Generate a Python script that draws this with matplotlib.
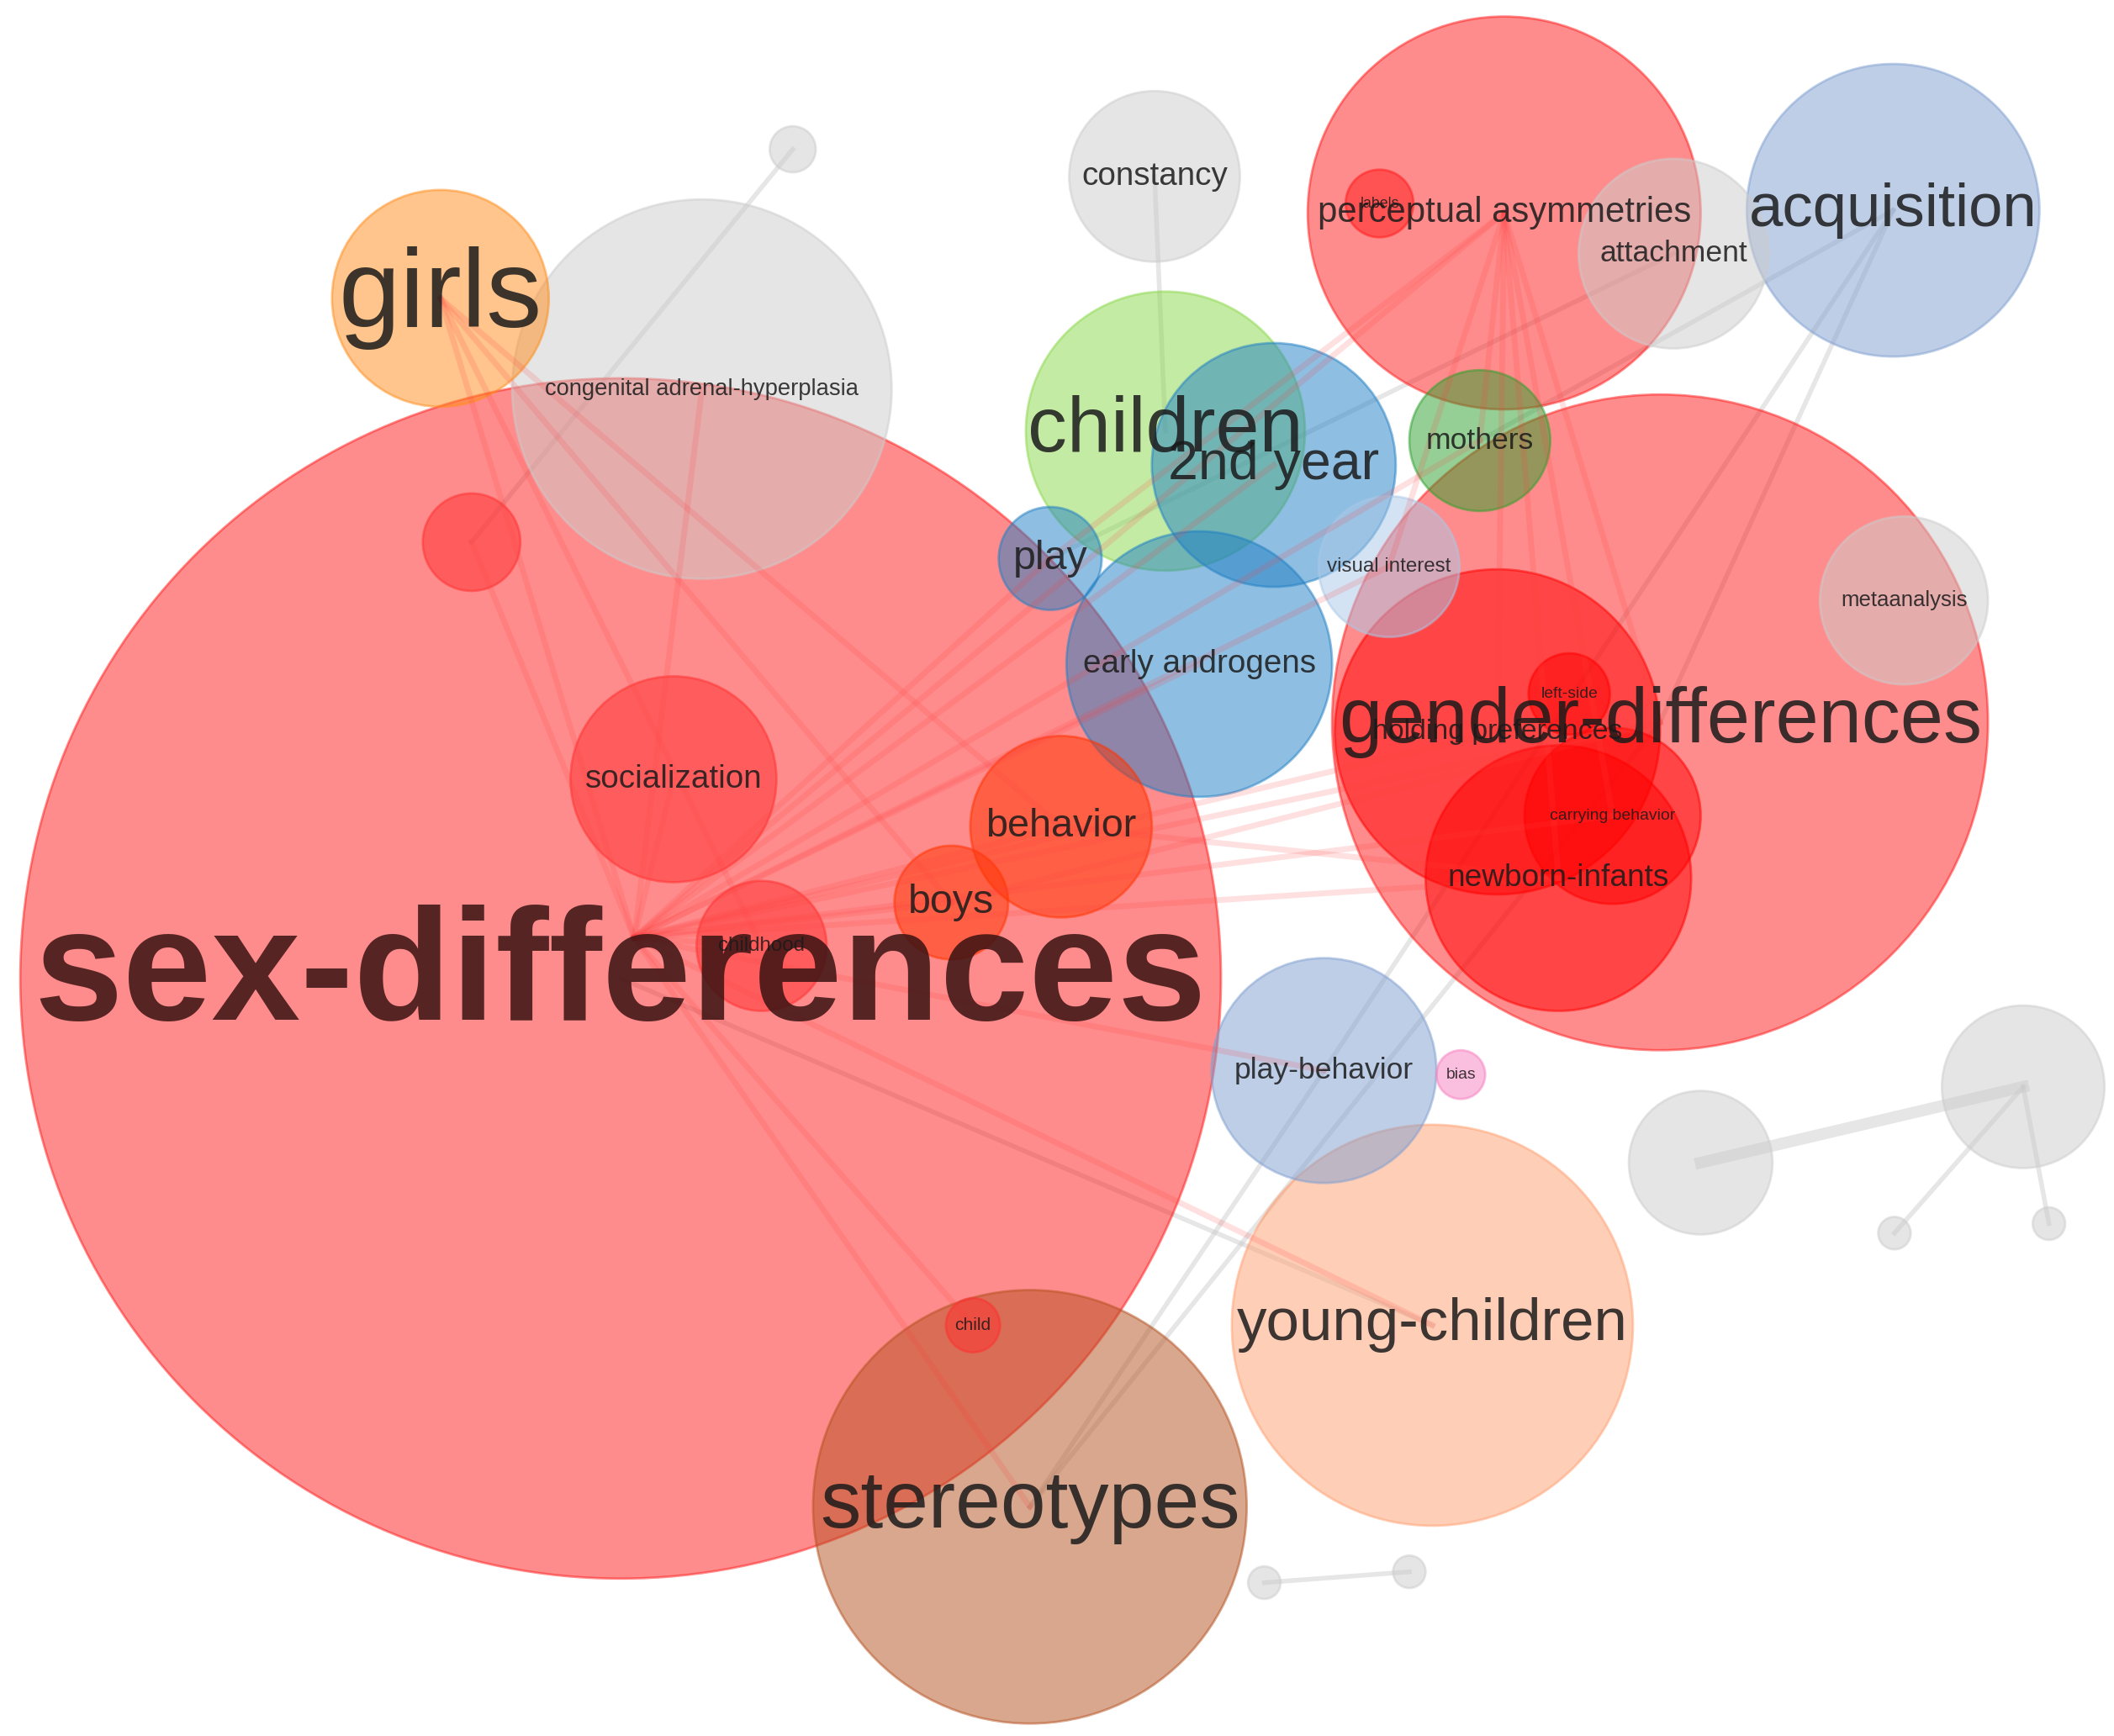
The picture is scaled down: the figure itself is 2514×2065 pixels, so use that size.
import matplotlib.pyplot as plt
from matplotlib.patches import Circle

W, H = 1560, 1281
K = 2514 / W * 72 / 100  # display px -> points

names = ['sex-differences', 'girls', 'congenital adrenal-hyperplasia', 'g_top', 'r_small',
         'constancy', 'perceptual asymmetries', 'labels', 'attachment', 'acquisition',
         'children', '2nd year', 'mothers', 'play', 'visual interest', 'early androgens',
         'gender-differences', 'metaanalysis', 'holding preferences', 'left-side',
         'carrying behavior', 'newborn-infants', 'socialization', 'behavior', 'boys',
         'childhood', 'play-behavior', 'bias', 'young-children', 'stereotypes', 'child',
         'g1', 'g2', 'g3', 'g4', 'g5', 'g6']
xs = [458, 325, 518, 585, 348, 852, 1110, 1018, 1235, 1397, 860, 940, 1092, 775, 1025, 885,
      1225, 1405, 1105, 1158, 1190, 1150, 497, 783, 702, 562, 977, 1078, 1057, 760, 718,
      1255, 1493, 1398, 1512, 933, 1040]
ys = [722, 220, 287, 110, 400, 130, 157, 150, 187, 155, 318, 343, 325, 412, 418, 490,
      533, 443, 540, 512, 602, 648, 575, 610, 666, 698, 790, 793, 978, 1112, 978,
      858, 802, 910, 903, 1168, 1160]
rs = [443, 80, 140, 17, 36, 63, 145, 25, 70, 108, 103, 90, 52, 38, 52, 98,
      242, 62, 120, 30, 65, 98, 76, 67, 42, 48, 83, 18, 148, 160, 20,
      53, 60, 12, 12, 12, 12]
colors = ['#ff1a1a', '#ff8c1a', '#cccccc', '#cccccc', '#ff3030', '#cccccc', '#ff1a1a', '#ff1a1a',
          '#cccccc', '#7f9fd0', '#8ad84a', '#1f7fc4', '#2ca02c', '#1f7fc4', '#aac8e8', '#1f7fc4',
          '#ff1a1a', '#cccccc', '#ff0000', '#ff0000', '#ff0000', '#ff0000', '#ff3030', '#ff3300',
          '#ff3300', '#ff3030', '#7f9fd0', '#f77fc0', '#ff9f70', '#b5501f', '#ff3030',
          '#cccccc', '#cccccc', '#cccccc', '#cccccc', '#cccccc', '#cccccc']
label_px = [118, 82, 17, 0, 0, 24, 26, 11, 22, 45, 58, 40, 22, 30, 15, 24,
            57, 16, 21, 12, 12, 23, 24, 29, 30, 15, 22, 12, 44, 60, 13,
            0, 0, 0, 0, 0, 0]

edges_red = [(0, i) for i in [1, 2, 4, 6, 11, 12, 13, 15, 16, 18, 21, 22, 23, 24, 25, 26, 28, 29, 30, 20, 14]]
edges_red += [(6, i) for i in [13, 16, 18, 21, 20, 14, 12]] + [(1, 25), (1, 24), (1, 23), (24, 16), (23, 21)]
edges_gray = [(3, 4), (5, 10), (9, 12), (9, 16), (8, 13), (31, 32), (32, 33), (32, 34), (35, 36),
              (29, 26), (29, 16), (28, 0), (26, 9)]

fig = plt.figure(figsize=(25.14, 20.65), dpi=100)
ax = fig.add_axes([0, 0, 1, 1])
ax.set_xlim(0, W)
ax.set_ylim(H, 0)
ax.set_aspect('equal')
ax.axis('off')

for a, b in edges_gray:
    lw = 10 if (a, b) == (31, 32) else 4
    ax.plot([xs[a], xs[b]], [ys[a], ys[b]], color='#c8c8c8', alpha=0.45, lw=lw, zorder=1)

order = sorted(range(len(names)), key=lambda i: -rs[i])
for i in order:
    ax.add_patch(Circle((xs[i], ys[i]), rs[i], facecolor=colors[i], alpha=0.5,
                        edgecolor=colors[i], lw=2, zorder=2))

for a, b in edges_red:
    ax.plot([xs[a] + (10 if a == 0 else 0), xs[b]], [ys[a] - 30 if a == 0 else ys[a], ys[b]],
            color='#ff4040', alpha=0.16, lw=5, zorder=3)

for i, n in enumerate(names):
    if label_px[i] == 0:
        continue
    weight = 'bold' if n == 'sex-differences' else 'normal'
    col = '#3a1212' if n == 'sex-differences' else '#1a1a1a'
    ax.text(xs[i], ys[i], n, ha='center', va='center', fontsize=label_px[i] * K,
            fontweight=weight, color=col, alpha=0.85, family=['Liberation Sans', 'DejaVu Sans'],
            zorder=5)

fig.savefig('out.png', dpi=100)
